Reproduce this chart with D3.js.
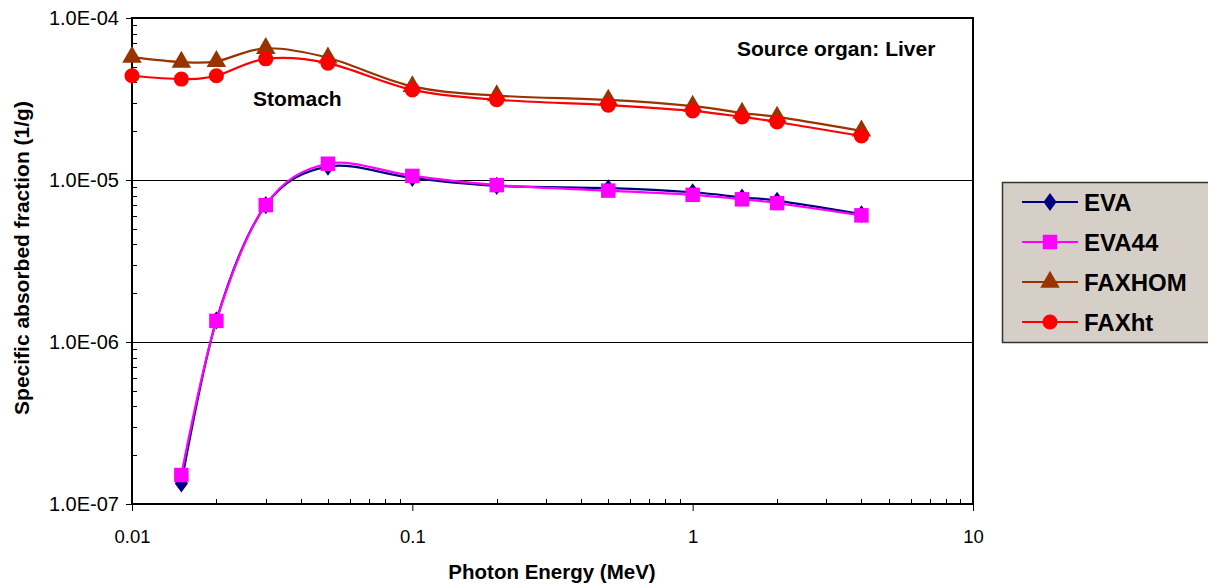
<!DOCTYPE html>
<html>
<head>
<meta charset="utf-8">
<script src="https://cdn.jsdelivr.net/npm/d3@7"></script>
<style>
body { margin: 0; background: #fff; }
svg { font-family: "Liberation Sans", Arial, sans-serif; }
</style>
</head>
<body>
<script>
const energies = [0.01, 0.015, 0.02, 0.03, 0.05, 0.1, 0.2, 0.5, 1, 1.5, 2, 4];
const eva      = [null, 1.34e-7, 1.36e-6, 7.0e-6, 1.21e-5, 1.03e-5, 9.2e-6, 8.9e-6, 8.4e-6, 7.8e-6, 7.45e-6, 6.15e-6];
const eva44    = [null, 1.51e-7, 1.35e-6, 7.0e-6, 1.26e-5, 1.06e-5, 9.3e-6, 8.6e-6, 8.1e-6, 7.6e-6, 7.2e-6, 6.05e-6];
const faxhom   = [5.74e-5, 5.35e-5, 5.4e-5, 6.5e-5, 5.68e-5, 3.78e-5, 3.32e-5, 3.12e-5, 2.86e-5, 2.59e-5, 2.45e-5, 2.01e-5];
const faxht    = [4.4e-5, 4.2e-5, 4.4e-5, 5.6e-5, 5.27e-5, 3.6e-5, 3.13e-5, 2.9e-5, 2.67e-5, 2.45e-5, 2.28e-5, 1.87e-5];
const seriesNames = ["EVA", "EVA44", "FAXHOM", "FAXht"];
const yTickValues = [1e-7, 1e-6, 1e-5, 1e-4];
const yTickLabels = ["1.0E-07", "1.0E-06", "1.0E-05", "1.0E-04"];
const xTickValues = [0.01, 0.1, 1, 10];
const xTickLabels = ["0.01", "0.1", "1", "10"];

const w = 1208, h = 585;
const plotLeft = 132, plotRight = 973, plotTop = 18, plotBottom = 504;

const series = [
  {name: seriesNames[0], values: eva, color: "#000080", symbol: "diamond"},
  {name: seriesNames[1], values: eva44, color: "#ff00ff", symbol: "square"},
  {name: seriesNames[2], values: faxhom, color: "#993300", symbol: "triangle"},
  {name: seriesNames[3], values: faxht, color: "#ff0000", symbol: "circle"}
];

const svg = d3.select("body").append("svg")
  .attr("width", w)
  .attr("height", h);

const xScale = d3.scaleLog().domain([0.01, 10]).range([plotLeft, plotRight]);
const yScale = d3.scaleLog().domain([1e-7, 1e-4]).range([plotBottom, plotTop]);

// gridlines (only the inner majors)
svg.append("g")
  .selectAll("line")
  .data([1e-6, 1e-5])
  .enter().append("line")
  .attr("x1", plotLeft).attr("x2", plotRight)
  .attr("y1", d => Math.round(yScale(d)) + 0.5).attr("y2", d => Math.round(yScale(d)) + 0.5)
  .attr("stroke", "#000").attr("stroke-width", 1);

// minor ticks, pointing inward
const minorY = [];
for (let e = -7; e < -4; e++) for (let k = 2; k < 10; k++) minorY.push(k * Math.pow(10, e));
const minorX = [];
for (let e = -2; e < 1; e++) for (let k = 2; k < 10; k++) minorX.push(k * Math.pow(10, e));

svg.append("g").selectAll("line").data(minorY).enter().append("line")
  .attr("x1", plotLeft).attr("x2", plotLeft + 5)
  .attr("y1", d => Math.round(yScale(d)) + 0.5).attr("y2", d => Math.round(yScale(d)) + 0.5)
  .attr("stroke", "#000").attr("stroke-width", 1);

svg.append("g").selectAll("line").data(minorX).enter().append("line")
  .attr("x1", d => Math.round(xScale(d)) + 0.5).attr("x2", d => Math.round(xScale(d)) + 0.5)
  .attr("y1", plotBottom).attr("y2", plotBottom - 5)
  .attr("stroke", "#000").attr("stroke-width", 1);

// frame
svg.append("rect")
  .attr("x", plotLeft).attr("y", plotTop)
  .attr("width", plotRight - plotLeft).attr("height", plotBottom - plotTop)
  .attr("fill", "none").attr("stroke", "#000").attr("stroke-width", 2);

// axes
const yAxis = d3.axisLeft(yScale)
  .tickValues(yTickValues)
  .tickSize(6)
  .tickFormat((d, i) => yTickLabels[i]);
const yg = svg.append("g").attr("transform", "translate(" + plotLeft + ",0)").call(yAxis);
yg.select(".domain").remove();
yg.selectAll("text").attr("font-size", 20).attr("fill", "#000").attr("dx", -4)
  .style("font-family", "Liberation Sans, Arial, sans-serif");

const xAxis = d3.axisBottom(xScale)
  .tickValues(xTickValues)
  .tickSize(7)
  .tickFormat((d, i) => xTickLabels[i]);
const xg = svg.append("g").attr("transform", "translate(0," + plotBottom + ")").call(xAxis);
xg.select(".domain").remove();
xg.selectAll("text").attr("font-size", 18.5).attr("fill", "#000").attr("dy", "1.55em")
  .style("font-family", "Liberation Sans, Arial, sans-serif");

// series
const line = d3.line()
  .defined(d => d.v != null)
  .x(d => xScale(d.e))
  .y(d => yScale(d.v))
  .curve(d3.curveCatmullRom.alpha(0));

const symbolTypes = {
  diamond: d3.symbolDiamond,
  square: d3.symbolSquare,
  triangle: d3.symbolTriangle,
  circle: d3.symbolCircle
};
const symbolSizes = {diamond: 95, square: 210, triangle: 165, circle: 180};

function symbolPath(s) {
  return d3.symbol().type(symbolTypes[s]).size(symbolSizes[s])();
}

series.forEach(s => {
  const pts = energies.map((e, i) => ({e: e, v: s.values[i]})).filter(d => d.v != null);
  svg.append("path")
    .datum(pts)
    .attr("d", line)
    .attr("fill", "none")
    .attr("stroke", s.color)
    .attr("stroke-width", 2.2);
  svg.append("g").selectAll("path")
    .data(pts)
    .enter().append("path")
    .attr("d", symbolPath(s.symbol))
    .attr("transform", d => "translate(" + xScale(d.e) + "," + yScale(d.v) + ")" + (s.symbol === "diamond" ? " scale(1.25,1)" : ""))
    .attr("fill", s.color);
});

// annotations
svg.append("text").attr("x", 737).attr("y", 56)
  .attr("font-size", 21).attr("font-weight", "bold").text("Source organ: Liver");
svg.append("text").attr("x", 253).attr("y", 106)
  .attr("font-size", 21).attr("font-weight", "bold").text("Stomach");

// axis titles
svg.append("text").attr("x", 552).attr("y", 579)
  .attr("text-anchor", "middle").attr("font-size", 20.5).attr("font-weight", "bold")
  .text("Photon Energy (MeV)");
svg.append("text")
  .attr("transform", "translate(29,258) rotate(-90)")
  .attr("text-anchor", "middle").attr("font-size", 21).attr("font-weight", "bold")
  .text("Specific absorbed fraction (1/g)");

// legend
const lg = svg.append("g").attr("transform", "translate(1002,182)");
lg.append("rect").attr("x", 0.5).attr("y", 0.5).attr("width", 230).attr("height", 160)
  .attr("fill", "#d6cfc7").attr("stroke", "#333").attr("stroke-width", 1.5);
const entries = lg.selectAll("g.entry").data(series).enter().append("g")
  .attr("class", "entry")
  .attr("transform", (d, i) => "translate(0," + (20 + i * 40) + ")");
entries.append("line").attr("x1", 20).attr("x2", 76).attr("y1", 0).attr("y2", 0)
  .attr("stroke", d => d.color).attr("stroke-width", 2.2);
entries.append("path")
  .attr("d", d => symbolPath(d.symbol))
  .attr("transform", d => "translate(48,0)" + (d.symbol === "diamond" ? " scale(1.25,1)" : ""))
  .attr("fill", d => d.color);
entries.append("text").attr("x", 82).attr("y", 8.5)
  .attr("font-size", 24).attr("font-weight", "bold").text(d => d.name);
</script>
</body>
</html>
